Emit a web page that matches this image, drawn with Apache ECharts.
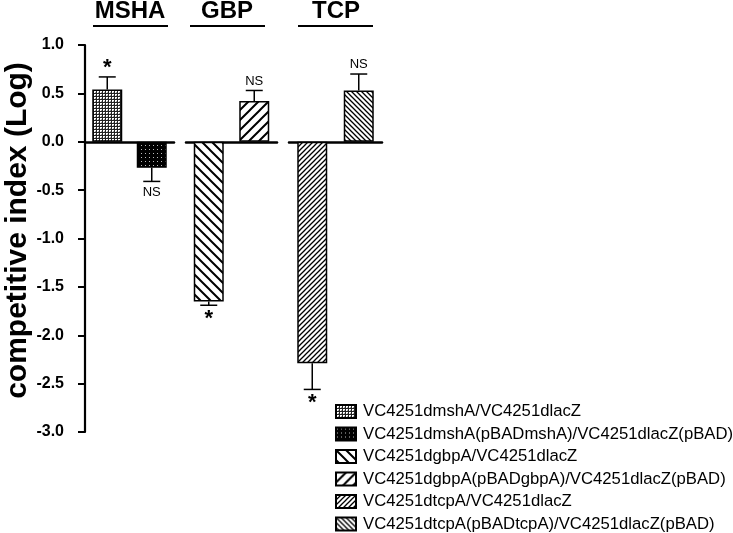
<!DOCTYPE html>
<html><head><meta charset="utf-8">
<script src="https://cdn.jsdelivr.net/npm/echarts@6/dist/echarts.min.js"></script>
<style>html,body{margin:0;padding:0;background:#fff}#c{width:733px;height:533px}</style>
</head><body><div id="c"></div>
<script>
// ---- data ----
const groups = ['MSHA', 'GBP', 'TCP'];
const seriesNames = [
  'VC4251dmshA/VC4251dlacZ',
  'VC4251dmshA(pBADmshA)/VC4251dlacZ(pBAD)',
  'VC4251dgbpA/VC4251dlacZ',
  'VC4251dgbpA(pBADgbpA)/VC4251dlacZ(pBAD)',
  'VC4251dtcpA/VC4251dlacZ',
  'VC4251dtcpA(pBADtcpA)/VC4251dlacZ(pBAD)'
];
const values = [0.54, -0.27, -1.65, 0.42, -2.29, 0.53];
const errEnds = [0.67, -0.41, -1.69, 0.53, -2.56, 0.70];
const marks = ['*', 'NS', '*', 'NS', '*', 'NS'];
const groupOf = [0, 0, 1, 1, 2, 2];
const slotOf = [0, 1, 0, 1, 0, 1];
const yTicks = { min: -3.0, max: 1.0, interval: 0.5 };
const yTitle = 'competitive index (Log)';

const FONT = '"Liberation Sans", Arial, sans-serif';

function pat(kind) {
  const c = document.createElement('canvas');
  let s;
  const ctx = () => c.getContext('2d');
  if (kind === 'grid') {
    s = 3; c.width = c.height = s; const g = ctx();
    g.fillStyle = '#fff'; g.fillRect(0, 0, s, s);
    g.fillStyle = '#222'; g.fillRect(0, 0, s, 1); g.fillRect(0, 0, 1, s);
    g.fillStyle = '#999'; g.fillRect(2, 2, 1, 1);
  } else if (kind === 'blackdots') {
    s = 4; c.width = c.height = s; const g = ctx();
    g.fillStyle = '#000'; g.fillRect(0, 0, s, s);
    g.fillStyle = '#bbb'; g.fillRect(1, 1, 1, 1);
  } else {
    const m = kind.match(/(back|fwd)(\d+(?:\.\d+)?)_(\d+(?:\.\d+)?)/);
    s = Math.round(parseFloat(m[2])); const lw = parseFloat(m[3]);
    c.width = c.height = s; const g = ctx();
    g.fillStyle = '#fff'; g.fillRect(0, 0, s, s);
    g.strokeStyle = '#000'; g.lineWidth = lw; g.beginPath();
    if (m[1] === 'fwd') {
      for (const o of [-s, 0, s]) { g.moveTo(o - 1, s + 1); g.lineTo(o + s + 1, -1); }
    } else {
      for (const o of [-s, 0, s]) { g.moveTo(o - 1, -1); g.lineTo(o + s + 1, s + 1); }
    }
    g.stroke();
  }
  return { image: c, repeat: 'repeat' };
}
const fills = [pat('grid'), pat('blackdots'), pat('back10_2'), pat('fwd10_2'), pat('fwd5_1.3'), pat('back5_1.3')];

const gridDefs = [
  { left: 85, width: 89 },
  { left: 186, width: 91 },
  { left: 289, width: 93 }
];
const TOP = 45, BOTTOM = 101;

const grid = gridDefs.map(g => ({ left: g.left, width: g.width, top: TOP, bottom: BOTTOM, containLabel: false }));
const xAxis = gridDefs.map((g, i) => ({
  type: 'category', gridIndex: i, data: ['a', 'b'],
  axisLine: { onZero: true, lineStyle: { color: '#000', width: 2.5 } },
  axisTick: { show: false }, axisLabel: { show: false }, splitLine: { show: false }
}));
const yAxis = gridDefs.map((g, i) => ({
  type: 'value', gridIndex: i, min: yTicks.min, max: yTicks.max, interval: yTicks.interval,
  show: i === 0,
  name: i === 0 ? yTitle : '', nameLocation: 'middle', nameGap: 52,
  nameTextStyle: { fontFamily: FONT, fontWeight: 'bold', fontSize: 30, color: '#000', padding: [0, 0, 0, 16] },
  axisLine: { show: true, onZero: false, lineStyle: { color: '#000', width: 2.2 } },
  axisTick: { show: true, inside: false, length: 7, lineStyle: { color: '#000', width: 2 } },
  axisLabel: { fontFamily: FONT, fontWeight: 'bold', fontSize: 16, color: '#000', margin: 21,
    formatter: v => v.toFixed(1) },
  splitLine: { show: false }
}));

const series = [];
seriesNames.forEach((name, k) => {
  const d = [ '-', '-' ];
  d[slotOf[k]] = values[k];
  series.push({
    name, type: 'bar', xAxisIndex: groupOf[k], yAxisIndex: groupOf[k],
    data: d, barWidth: 30, barGap: '-100%',
    itemStyle: { color: fills[k], borderColor: '#000', borderWidth: 1.5 },
    emphasis: { disabled: true }, animation: false
  });
});
groups.forEach((gname, gi) => {
  const data = [];
  seriesNames.forEach((n, k) => {
    if (groupOf[k] === gi) data.push([slotOf[k], values[k], errEnds[k], k]);
  });
  series.push({
    type: 'custom', xAxisIndex: gi, yAxisIndex: gi, data, z: 5, animation: false,
    renderItem: (params, api) => {
      const k = api.value(3);
      const a = api.coord([api.value(0), api.value(1)]);
      const e = api.coord([api.value(0), api.value(2)]);
      const up = e[1] < a[1];
      const m = marks[k];
      const star = m === '*';
      return {
        type: 'group', children: [
          { type: 'line', shape: { x1: a[0], y1: a[1], x2: e[0], y2: e[1] }, style: { stroke: '#000', lineWidth: 1.5 } },
          { type: 'line', shape: { x1: e[0] - 8.5, y1: e[1], x2: e[0] + 8.5, y2: e[1] }, style: { stroke: '#000', lineWidth: 1.5 } },
          { type: 'text', x: e[0], y: up ? e[1] - (star ? -2 : 3) : e[1] + (star ? 3 : 5),
            style: { text: m, fill: '#000', fontFamily: FONT,
              fontSize: star ? 22 : 13, fontWeight: star ? 'bold' : 'normal',
              align: 'center', verticalAlign: up ? 'bottom' : 'top' } }
        ]
      };
    }
  });
});

const headerPos = [ { cx: 130, x1: 93, x2: 168 }, { cx: 227, x1: 190, x2: 265 }, { cx: 336, x1: 298, x2: 373 } ];
const graphic = [];
groups.forEach((g, i) => {
  const h = headerPos[i];
  graphic.push({ type: 'text', x: h.cx, y: -1, style: { text: g, fontFamily: FONT, fontWeight: 'bold', fontSize: 24, fill: '#000', align: 'center', verticalAlign: 'top' } });
  graphic.push({ type: 'line', shape: { x1: h.x1, y1: 26, x2: h.x2, y2: 26 }, style: { stroke: '#000', lineWidth: 2 } });
});

const option = {
  animation: false,
  grid, xAxis, yAxis, series, graphic,
  legend: {
    data: seriesNames, orient: 'vertical', left: 330, top: 398, height: 135,
    itemWidth: 20, itemHeight: 13, itemGap: 5.5, icon: 'rect',
    textStyle: { fontFamily: FONT, fontSize: 16.7, color: '#000', padding: [0, 0, 0, 2] },
    selectedMode: false
  }
};
const chart = echarts.init(document.getElementById('c'), null, { renderer: 'canvas' });
chart.setOption(option);
</script></body></html>
